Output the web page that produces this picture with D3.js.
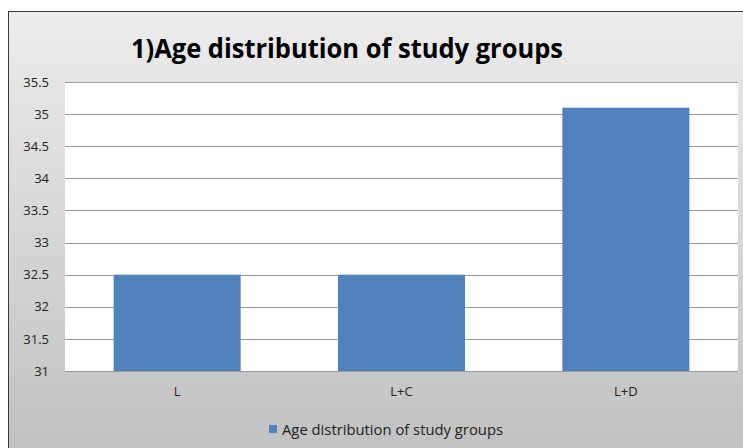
<!DOCTYPE html>
<html>
<head>
<meta charset="utf-8">
<script src="https://cdn.jsdelivr.net/npm/d3@7"></script>
<style>
  body { margin: 0; background: #fff; }
  text { font-family: "Open Sans", "Liberation Sans", sans-serif; }
</style>
</head>
<body>
<div id="chart"></div>
<script>
// data
const categories = ["L", "L+C", "L+D"];
const ages = [32.5, 32.5, 35.1];
const yTicks = [31, 31.5, 32, 32.5, 33, 33.5, 34, 34.5, 35, 35.5];
const seriesName = "Age distribution of study groups";
const title = "1)Age distribution of study groups";

const W = 743, H = 448;
const plot = { left: 65, right: 738, top: 82, bottom: 371 };

const svg = d3.select("#chart").append("svg")
    .attr("width", W)
    .attr("height", H);

// background gradient for the chart area
const grad = svg.append("defs").append("linearGradient")
    .attr("id", "bg").attr("x1", 0).attr("y1", 0).attr("x2", 0).attr("y2", 1);
grad.append("stop").attr("offset", "0%").attr("stop-color", "#ececec");
grad.append("stop").attr("offset", "100%").attr("stop-color", "#c0c0c0");

svg.append("rect")
    .attr("x", 8.5).attr("y", 11.5)
    .attr("width", W).attr("height", H)
    .attr("fill", "url(#bg)")
    .attr("stroke", "#3a3a3a")
    .attr("stroke-width", 1);

// title
svg.append("text")
    .attr("x", 347).attr("y", 58)
    .attr("text-anchor", "middle")
    .attr("font-size", "26px")
    .attr("font-weight", "bold")
    .attr("fill", "#000")
    .attr("textLength", 432)
    .attr("lengthAdjust", "spacingAndGlyphs")
    .text(title);

const x = d3.scaleBand()
    .domain(categories)
    .range([plot.left, plot.right])
    .paddingInner(0.434)
    .paddingOuter(0.217);

const y = d3.scaleLinear()
    .domain([31, 35.5])
    .range([plot.bottom, plot.top]);

// plot area
svg.append("rect")
    .attr("x", plot.left).attr("y", plot.top)
    .attr("width", plot.right - plot.left)
    .attr("height", plot.bottom - plot.top)
    .attr("fill", "#fff");

// gridlines
svg.append("g")
    .selectAll("line")
    .data(yTicks)
    .join("line")
    .attr("x1", plot.left).attr("x2", plot.right)
    .attr("y1", d => Math.round(y(d)) + 0.5)
    .attr("y2", d => Math.round(y(d)) + 0.5)
    .attr("stroke", "#9a9a9a")
    .attr("stroke-width", 1.2);

// bars
svg.append("g")
    .selectAll("rect")
    .data(ages)
    .join("rect")
    .attr("x", (d, i) => x(categories[i]))
    .attr("y", d => y(d))
    .attr("width", x.bandwidth())
    .attr("height", d => y(31) - y(d))
    .attr("fill", "#4f81bd");

// y axis
const yAxis = svg.append("g")
    .attr("transform", `translate(${plot.left},0)`)
    .call(d3.axisLeft(y).tickValues(yTicks).tickSize(0).tickPadding(16).tickFormat(d3.format("")));
yAxis.select(".domain").remove();
yAxis.selectAll("text")
    .attr("font-size", "13px")
    .attr("fill", "#222")
    .style("font-family", "'Open Sans', sans-serif");

// x axis
const xAxis = svg.append("g")
    .attr("transform", `translate(0,${plot.bottom})`)
    .call(d3.axisBottom(x).tickSize(0).tickPadding(16));
xAxis.select(".domain").remove();
xAxis.selectAll("text")
    .attr("font-size", "13px")
    .attr("fill", "#222")
    .style("font-family", "'Open Sans', sans-serif");

// legend
const legend = svg.append("g").attr("transform", "translate(269,425)");
legend.append("rect")
    .attr("width", 8).attr("height", 8)
    .attr("fill", "#4f81bd");
legend.append("text")
    .attr("x", 13).attr("y", 9.5)
    .attr("font-size", "14px")
    .attr("fill", "#222")
    .attr("textLength", 221)
    .attr("lengthAdjust", "spacingAndGlyphs")
    .text(seriesName);
</script>
</body>
</html>
